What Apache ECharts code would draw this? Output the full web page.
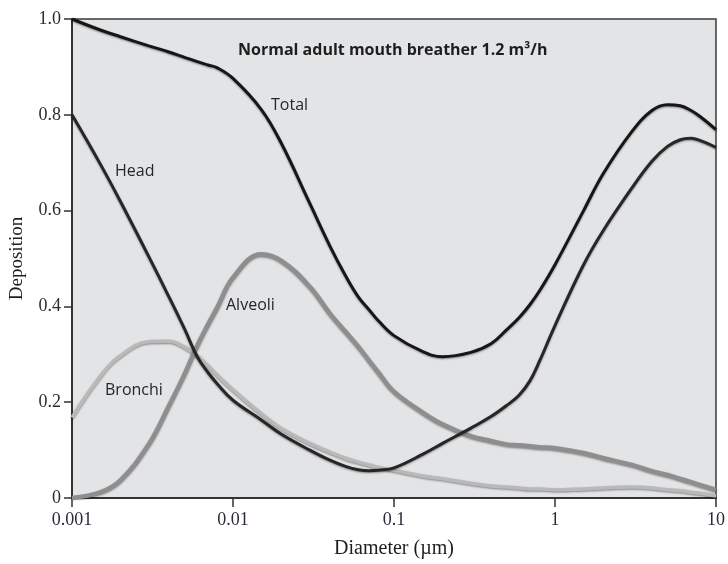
<!DOCTYPE html>
<html>
<head>
<meta charset="utf-8">
<script src="https://cdn.jsdelivr.net/npm/echarts@6/dist/echarts.min.js"></script>
<style>
  html, body { margin: 0; padding: 0; background: #ffffff; }
  #chart { width: 728px; height: 564px; }
</style>
</head>
<body>
<div id="chart"></div>
<script>
// Particle diameter (µm), shared by every curve
const diameters = [
  0.001, 0.0015, 0.002, 0.003, 0.004, 0.005, 0.006, 0.007, 0.008,
  0.01, 0.015, 0.02, 0.03, 0.04, 0.05, 0.06, 0.07, 0.08,
  0.1, 0.15, 0.2, 0.3, 0.4, 0.5, 0.6, 0.7, 0.8,
  1, 1.5, 2, 3, 4, 5, 6, 7, 8,
  10
];

// Deposition fraction per region
const total = [
  1.0, 0.977, 0.963, 0.944, 0.931, 0.920, 0.911, 0.904, 0.898,
  0.876, 0.811, 0.740, 0.615, 0.526, 0.464, 0.420, 0.393, 0.370,
  0.339, 0.306, 0.295, 0.304, 0.322, 0.351, 0.377, 0.404, 0.432,
  0.487, 0.599, 0.678, 0.765, 0.809, 0.821, 0.819, 0.809, 0.796,
  0.769
];
const head = [
  0.800, 0.697, 0.619, 0.504, 0.420, 0.353, 0.295, 0.262, 0.238,
  0.204, 0.163, 0.133, 0.100, 0.079, 0.066, 0.059, 0.057, 0.058,
  0.063, 0.091, 0.114, 0.146, 0.170, 0.193, 0.215, 0.245, 0.285,
  0.360, 0.486, 0.559, 0.647, 0.703, 0.734, 0.748, 0.751, 0.746,
  0.732
];
const alveoli = [
  0.0, 0.012, 0.037, 0.112, 0.192, 0.258, 0.318, 0.362, 0.398,
  0.460, 0.509, 0.495, 0.441, 0.385, 0.347, 0.316, 0.287, 0.262,
  0.222, 0.179, 0.154, 0.129, 0.119, 0.112, 0.110, 0.108, 0.106,
  0.104, 0.094, 0.083, 0.069, 0.056, 0.048, 0.040, 0.033, 0.027,
  0.017
];
const bronchi = [
  0.168, 0.254, 0.297, 0.326, 0.327, 0.315, 0.297, 0.276, 0.256,
  0.226, 0.176, 0.145, 0.114, 0.096, 0.083, 0.075, 0.069, 0.064,
  0.058, 0.046, 0.040, 0.031, 0.025, 0.023, 0.021, 0.019, 0.019,
  0.017, 0.019, 0.021, 0.023, 0.021, 0.017, 0.015, 0.012, 0.010,
  0.004
];

// Axis tick labels
const xTickLabels = ['0.001', '0.01', '0.1', '1', '10'];
const yTickLabels = ['0', '0.2', '0.4', '0.6', '0.8', '1.0'];

const pairs = ys => diameters.map((d, i) => [d, ys[i]]);

const chart = echarts.init(document.getElementById('chart'), null, { renderer: 'canvas' });

const serif = '"Liberation Serif", "DejaVu Serif", serif';
const sans = '"Open Sans", Lato, sans-serif';
const tickColor = '#2a2a38';

function curve(name, ys, color, width, z) {
  return {
    name, type: 'line', data: pairs(ys), smooth: 0.4, symbol: 'none', z,
    lineStyle: {
      color, width,
      shadowColor: 'rgba(0,0,0,0.4)', shadowBlur: 2, shadowOffsetY: 1
    }
  };
}

chart.setOption({
  animation: false,
  backgroundColor: '#ffffff',
  grid: {
    left: 72, right: 11, top: 19, bottom: 64,
    show: true, backgroundColor: '#e3e4e6', borderColor: '#3a3a3a', borderWidth: 1.5
  },
  title: {
    text: 'Normal adult mouth breather 1.2 m³/h',
    left: 233, top: 37,
    textStyle: { fontFamily: sans, fontWeight: 'bold', fontSize: 16, color: '#1e1e1e' }
  },
  xAxis: {
    type: 'log', logBase: 10, min: 0.001, max: 10,
    name: 'Diameter (µm)', nameLocation: 'middle', nameGap: 41,
    nameTextStyle: { fontFamily: serif, fontSize: 20, color: '#1e1e1e' },
    axisLine: { lineStyle: { color: '#333333', width: 2 } },
    axisTick: { show: true, length: 9, lineStyle: { color: '#333333', width: 1.5 } },
    minorTick: { show: false },
    splitLine: { show: false },
    axisLabel: {
      margin: 13, fontFamily: serif, fontSize: 18, color: tickColor,
      formatter: v => xTickLabels[Math.round(Math.log10(v)) + 3] ?? ''
    }
  },
  yAxis: {
    type: 'value', min: 0, max: 1, interval: 0.2,
    name: 'Deposition', nameLocation: 'middle', nameGap: 45,
    nameTextStyle: { fontFamily: serif, fontSize: 19, color: '#1e1e1e' },
    axisLine: { show: true, lineStyle: { color: '#333333', width: 2 } },
    axisTick: { show: true, length: 8, lineStyle: { color: '#333333', width: 1.5 } },
    splitLine: { show: false },
    axisLabel: {
      margin: 11, fontFamily: serif, fontSize: 18, color: tickColor,
      formatter: v => yTickLabels[Math.round(v * 5)] ?? ''
    }
  },
  series: [
    curve('Bronchi', bronchi, '#b9b9b9', 3.5, 2),
    curve('Alveoli', alveoli, '#8e8e8e', 4.5, 3),
    curve('Head', head, '#262626', 3, 4),
    curve('Total', total, '#161616', 3, 5)
  ],
  graphic: [
    { type: 'text', left: 271, top: 97, style: { text: 'Total', font: '16px ' + sans, fill: '#262626' } },
    { type: 'text', left: 115, top: 163, style: { text: 'Head', font: '16px ' + sans, fill: '#262626' } },
    { type: 'text', left: 226, top: 297, style: { text: 'Alveoli', font: '16px ' + sans, fill: '#262626' } },
    { type: 'text', left: 105, top: 382, style: { text: 'Bronchi', font: '16px ' + sans, fill: '#262626' } }
  ]
});
</script>
</body>
</html>
